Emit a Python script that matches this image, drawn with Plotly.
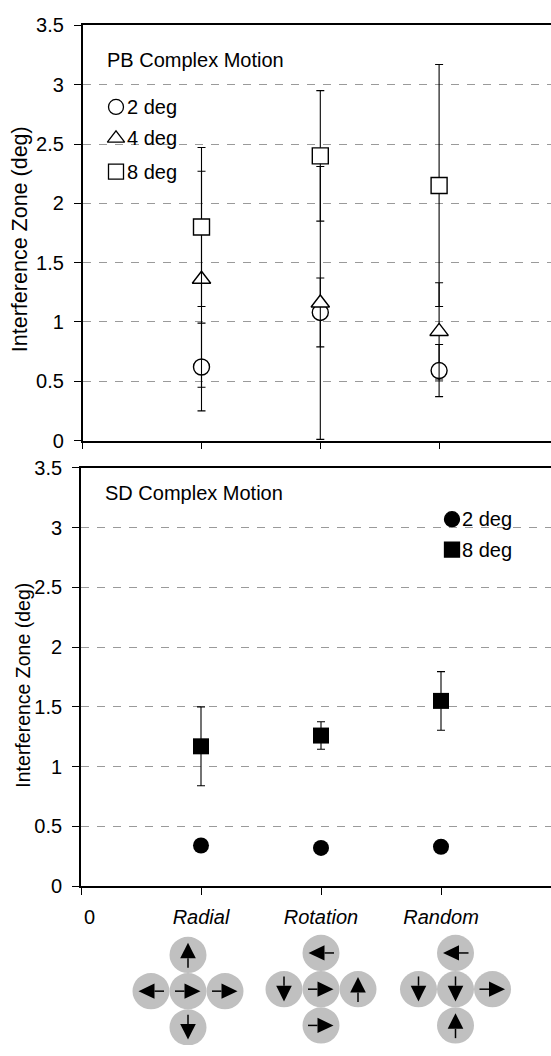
import plotly.graph_objects as go

# ---------------- data ----------------
CATEGORIES = ["Radial", "Rotation", "Random"]
CAT_X = [1, 2, 3]

# PB complex motion (open symbols), interference zone in deg with error half-widths
PB_2DEG = [0.62, 1.08, 0.59]
PB_2DEG_ERR = [0.37, 0.29, 0.22]
PB_4DEG = [1.36, 1.16, 0.92]
PB_4DEG_ERR = [0.91, 1.15, 0.41]
PB_8DEG = [1.80, 2.40, 2.15]
PB_8DEG_ERR = [0.67, 0.55, 1.02]

# SD complex motion (filled symbols)
SD_2DEG = [0.34, 0.32, 0.33]
SD_8DEG = [1.17, 1.26, 1.55]
SD_8DEG_ERR = [0.33, 0.115, 0.245]

Y_TICKS = [0, 0.5, 1, 1.5, 2, 2.5, 3, 3.5]
Y_TICK_TEXT = ["0", "0.5", "1", "1.5", "2", "2.5", "3", "3.5"]

# motion pictograms: arrow direction in the top, left, centre, right, bottom discs
RADIAL_ARROWS = ["up", "left", "right", "right", "down"]
ROTATION_ARROWS = ["left", "down", "right", "up", "right"]
RANDOM_ARROWS = ["left", "down", "down", "right", "up"]

# ---------------- page geometry (pixels) ----------------
W, H = 551, 1056
FONT = "Liberation Sans, Arial, Helvetica, sans-serif"
TICK_FONT = dict(family=FONT, size=20, color="black")

TOP = dict(left=82.7, y_top=14.7, y_bottom=438.7, step=118.8)
BOT = dict(left=81.0, y_top=466.5, y_bottom=893.8, step=120.0)


def fx(p):
    return p / W


def fy(p):
    return 1 - p / H


fig = go.Figure()


def open_series(y, err, symbol, size):
    return go.Scatter(
        x=CAT_X, y=y, mode="markers", xaxis="x", yaxis="y", showlegend=False,
        marker=dict(symbol=symbol, size=size, color="white",
                    line=dict(color="black", width=1.4)),
        error_y=dict(type="data", array=err, visible=True, color="black",
                     thickness=1.1, width=4),
    )


fig.add_trace(open_series(PB_2DEG, PB_2DEG_ERR, "circle", 16))
fig.add_trace(open_series(PB_4DEG, PB_4DEG_ERR, "triangle-up", 16))
fig.add_trace(open_series(PB_8DEG, PB_8DEG_ERR, "square", 16))

fig.add_trace(go.Scatter(
    x=CAT_X, y=SD_2DEG, mode="markers", xaxis="x2", yaxis="y2", showlegend=False,
    marker=dict(symbol="circle", size=16, color="black"),
))
fig.add_trace(go.Scatter(
    x=CAT_X, y=SD_8DEG, mode="markers", xaxis="x2", yaxis="y2", showlegend=False,
    marker=dict(symbol="square", size=16, color="black"),
    error_y=dict(type="data", array=SD_8DEG_ERR, visible=True, color="black",
                 thickness=1.1, width=4),
))

# ---------------- legend keys drawn in page pixel space (x3/y3) ----------------
def key(x, y, symbol, filled):
    fig.add_trace(go.Scatter(
        x=[x], y=[y], mode="markers", xaxis="x3", yaxis="y3", showlegend=False,
        hoverinfo="skip",
        marker=dict(symbol=symbol, size=15,
                    color="black" if filled else "white",
                    line=dict(color="black", width=1.3)),
    ))


def label(x, y, text, size=20, xanchor="left", angle=0, italic=False):
    fig.add_annotation(
        x=x, y=y, xref="x3", yref="y3", text=text, showarrow=False,
        xanchor=xanchor, yanchor="middle", textangle=angle,
        font=dict(family=FONT, size=size, color="black",
                  style="italic" if italic else "normal"),
    )


label(105, 50, "PB Complex Motion")
for yy, sym, txt in [(98, "circle", "2 deg"), (130, "triangle-up", "4 deg"),
                     (164, "square", "8 deg")]:
    key(116, yy, sym, False)
    label(125, yy, txt)

label(103, 492, "SD Complex Motion")
for yy, sym, txt in [(519, "circle", "2 deg"), (550, "square", "8 deg")]:
    key(452, yy, sym, True)
    label(460, yy, txt)

label(20, 233, "Interference Zone (deg)", size=21.5, xanchor="center", angle=-90)
label(23, 689, "Interference Zone (deg)", size=19.5, xanchor="center", angle=-90)
label(89, 925, "0", xanchor="center")

# ---------------- pictograms ----------------
DISC_R = 18.5
DISC_GAP = 37
GROUP_CENTERS = [(188, 1001), (321, 999), (455.5, 999)]
SLOT_OFFSETS = [(0, -1), (-1, 0), (0, 0), (1, 0), (0, 1)]
DIRS = {"up": (0, -1), "down": (0, 1), "left": (-1, 0), "right": (1, 0)}

for (gx, gy), arrows in zip(GROUP_CENTERS, [RADIAL_ARROWS, ROTATION_ARROWS, RANDOM_ARROWS]):
    for (ox, oy), d in zip(SLOT_OFFSETS, arrows):
        cx, cy = gx + ox * DISC_GAP, gy + oy * DISC_GAP
        fig.add_shape(type="circle", xref="x3", yref="y3",
                      x0=cx - DISC_R, x1=cx + DISC_R, y0=cy - DISC_R, y1=cy + DISC_R,
                      fillcolor="#c0c0c0", line=dict(width=0), layer="above")
        dx, dy = DIRS[d]
        px, py = -dy, dx
        tip = (cx + dx * 12.5, cy + dy * 12.5)
        base = (cx - dx * 3.5, cy - dy * 3.5)
        tail = (cx - dx * 13, cy - dy * 13)
        hw = 7.8
        fig.add_shape(type="line", xref="x3", yref="y3",
                      x0=tail[0], y0=tail[1], x1=base[0], y1=base[1],
                      line=dict(color="black", width=1.5), layer="above")
        path = (f"M{tip[0]},{tip[1]} L{base[0] + px * hw},{base[1] + py * hw} "
                f"L{base[0] - px * hw},{base[1] - py * hw} Z")
        fig.add_shape(type="path", xref="x3", yref="y3", path=path,
                      fillcolor="black", line=dict(width=0), layer="above")

# ---------------- axes ----------------
grid = dict(showgrid=True, gridcolor="#9a9a9a", gridwidth=1.3, griddash="8px,8px")
yax = dict(range=[0, 3.5], tickvals=Y_TICKS, ticktext=Y_TICK_TEXT, ticks="outside",
           ticklen=7, tickwidth=1.3, tickcolor="black", showline=True,
           linecolor="black", linewidth=1.7, tickfont=TICK_FONT,
           ticklabelstandoff=6, zeroline=False, fixedrange=True, **grid)
xax = dict(tickvals=[0] + CAT_X, ticks="outside", ticklen=7, tickwidth=1.3,
           tickcolor="black", showline=True, linecolor="black", linewidth=1.7,
           mirror=True, showgrid=False, zeroline=False, fixedrange=True)

fig.update_layout(
    width=W, height=H, margin=dict(l=0, r=0, t=0, b=0, pad=0),
    paper_bgcolor="white", plot_bgcolor="rgba(0,0,0,0)", showlegend=False,
    xaxis=dict(domain=[fx(TOP["left"]), 1], anchor="y",
               range=[0, (W - TOP["left"]) / TOP["step"]],
               showticklabels=False, **xax),
    yaxis=dict(domain=[fy(TOP["y_bottom"]), fy(TOP["y_top"])], anchor="x", **yax),
    xaxis2=dict(domain=[fx(BOT["left"]), 1], anchor="y2",
                range=[0, (W - BOT["left"]) / BOT["step"]],
                ticktext=[""] + [f"<i>{c}</i>" for c in CATEGORIES],
                tickfont=TICK_FONT, ticklabelstandoff=5, **xax),
    yaxis2=dict(domain=[fy(BOT["y_bottom"]), fy(BOT["y_top"])], anchor="x2", **yax),
    xaxis3=dict(domain=[0, 1], range=[0, W], anchor="y3", visible=False,
                fixedrange=True),
    yaxis3=dict(domain=[0, 1], range=[H, 0], anchor="x3", visible=False,
                fixedrange=True),
)

fig.write_html("out.html")
